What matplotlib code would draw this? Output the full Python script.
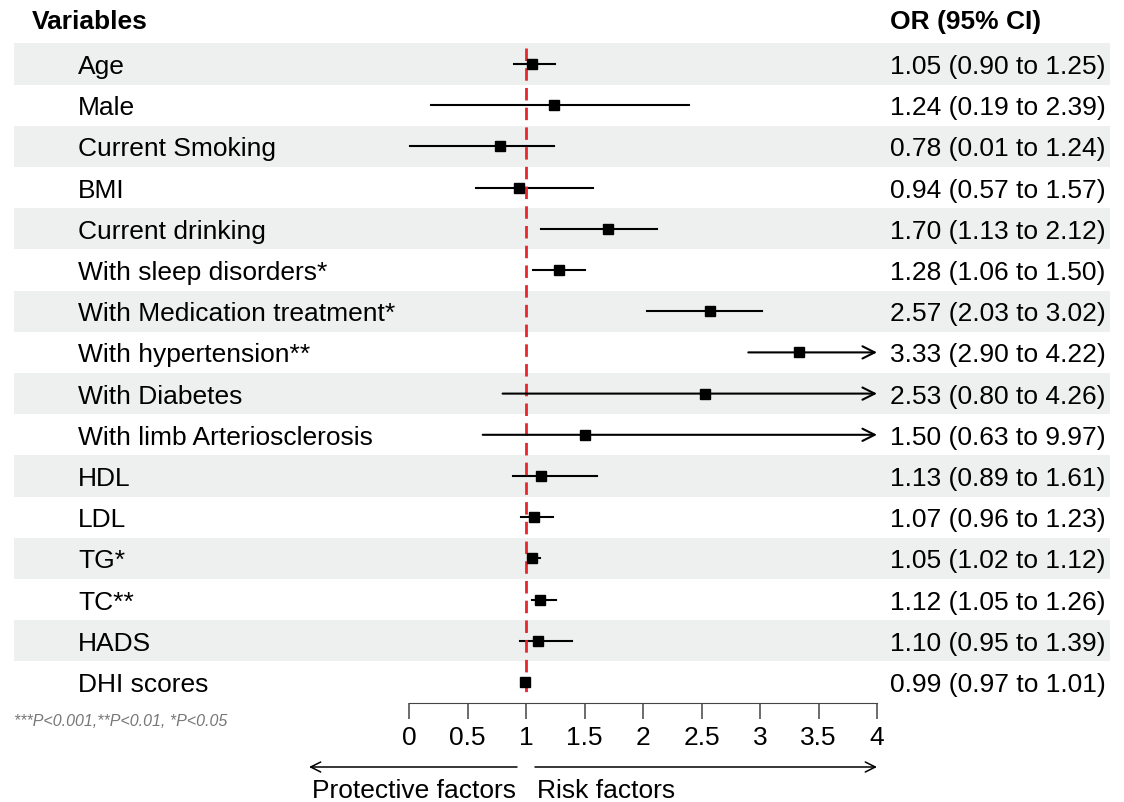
import numpy as np
import matplotlib.pyplot as plt

plt.rcParams['font.family'] = ['Liberation Sans', 'DejaVu Sans']

# Datos del forest plot
variables = ['Age', 'Male', 'Current Smoking', 'BMI', 'Current drinking',
             'With sleep disorders*', 'With Medication treatment*',
             'With hypertension**', 'With Diabetes', 'With limb Arteriosclerosis',
             'HDL', 'LDL', 'TG*', 'TC**', 'HADS', 'DHI scores']
or_vals = [1.05, 1.24, 0.78, 0.94, 1.70, 1.28, 2.57, 3.33, 2.53, 1.50,
           1.13, 1.07, 1.05, 1.12, 1.10, 0.99]
ci_low = [0.90, 0.19, 0.01, 0.57, 1.13, 1.06, 2.03, 2.90, 0.80, 0.63,
          0.89, 0.96, 1.02, 1.05, 0.95, 0.97]
ci_high = [1.25, 2.39, 1.24, 1.57, 2.12, 1.50, 3.02, 4.22, 4.26, 9.97,
           1.61, 1.23, 1.12, 1.26, 1.39, 1.01]
x_ticks = [0, 0.5, 1, 1.5, 2, 2.5, 3, 3.5, 4]
x_max = 4

fig = plt.figure(figsize=(11.24, 8.03), dpi=100)
ax = fig.add_axes([0, 0, 1, 1])

# escala: 0 -> 409 px, 4 -> 877 px ; filas: 65 px + 41.2 px por fila
px_x = 117.0
px_y = 41.2
ax.set_xlim(-409 / px_x, (1124 - 409) / px_x)
ax.set_ylim((803 - 65) / px_y, -65 / px_y)

x_left = (14 - 409) / px_x
x_right = (1110 - 409) / px_x
fs = 19
off = 9 / px_y  # desplazamiento a la linea base

# bandas alternas
for i in range(len(variables)):
    if i % 2 == 0:
        ax.fill_between([x_left, x_right], i - 0.5, i + 0.5, color='#eef0ef', lw=0, zorder=0)

# linea de referencia en 1
ax.plot([1, 1], [-0.38, 15.35], color='#e8262c', lw=2.0, ls=(0, (4.5, 2.6)), zorder=3)

for i, (v, o, lo, hi) in enumerate(zip(variables, or_vals, ci_low, ci_high)):
    if hi > x_max:
        ax.annotate('', xy=(x_max, i), xytext=(lo, i),
                    arrowprops=dict(arrowstyle='->', lw=1.5, color='black',
                                    mutation_scale=22, shrinkA=0, shrinkB=0))
    else:
        ax.plot([lo, hi], [i, i], color='black', lw=1.5, zorder=2)
    ax.plot(o, i, 's', color='black', ms=7.2, zorder=4)
    ax.text((78 - 409) / px_x, i + off, v, fontsize=fs, va='baseline', ha='left')
    ax.text((890 - 409) / px_x, i + off, f'{o:.2f} ({lo:.2f} to {hi:.2f})',
            fontsize=fs, va='baseline', ha='left')

# encabezados
ax.text((32 - 409) / px_x, (29 - 65) / px_y, 'Variables', fontsize=fs, fontweight='bold',
        va='baseline', ha='left')
ax.text((890 - 409) / px_x, (29 - 65) / px_y, 'OR (95% CI)', fontsize=fs, fontweight='bold',
        va='baseline', ha='left')

# nota de significancia
ax.text(x_left, (722 - 65) / px_y, '***P<0.001,**P<0.01, *P<0.05', fontsize=11.5,
        style='italic', color='#777777', va='center', ha='left')

# eje inferior
for s in ['top', 'left', 'right']:
    ax.spines[s].set_visible(False)
ax.spines['bottom'].set_position(('data', (704 - 65) / px_y))
ax.spines['bottom'].set_bounds(0, x_max)
ax.spines['bottom'].set_color('#444444')
ax.set_xticks(x_ticks)
ax.set_xticklabels([f'{t:g}' for t in x_ticks])
ax.set_yticks([])
ax.tick_params(axis='x', length=11.5, width=1.1, color='#444444', labelsize=fs, pad=4.5)

# flechas de factores
y_arr = (768 - 65) / px_y
ax.annotate('', xy=((309 - 409) / px_x, y_arr), xytext=((517 - 409) / px_x, y_arr),
            arrowprops=dict(arrowstyle='->', lw=1.1, color='black', mutation_scale=18,
                            shrinkA=0, shrinkB=0))
ax.annotate('', xy=(x_max, y_arr), xytext=((535 - 409) / px_x, y_arr),
            arrowprops=dict(arrowstyle='->', lw=1.1, color='black', mutation_scale=18,
                            shrinkA=0, shrinkB=0))
y_lab = (798 - 65) / px_y
ax.text((516 - 409) / px_x, y_lab, 'Protective factors', fontsize=fs, va='baseline', ha='right')
ax.text((537 - 409) / px_x, y_lab, 'Risk factors', fontsize=fs, va='baseline', ha='left')

fig.savefig('out.png', dpi=100)
